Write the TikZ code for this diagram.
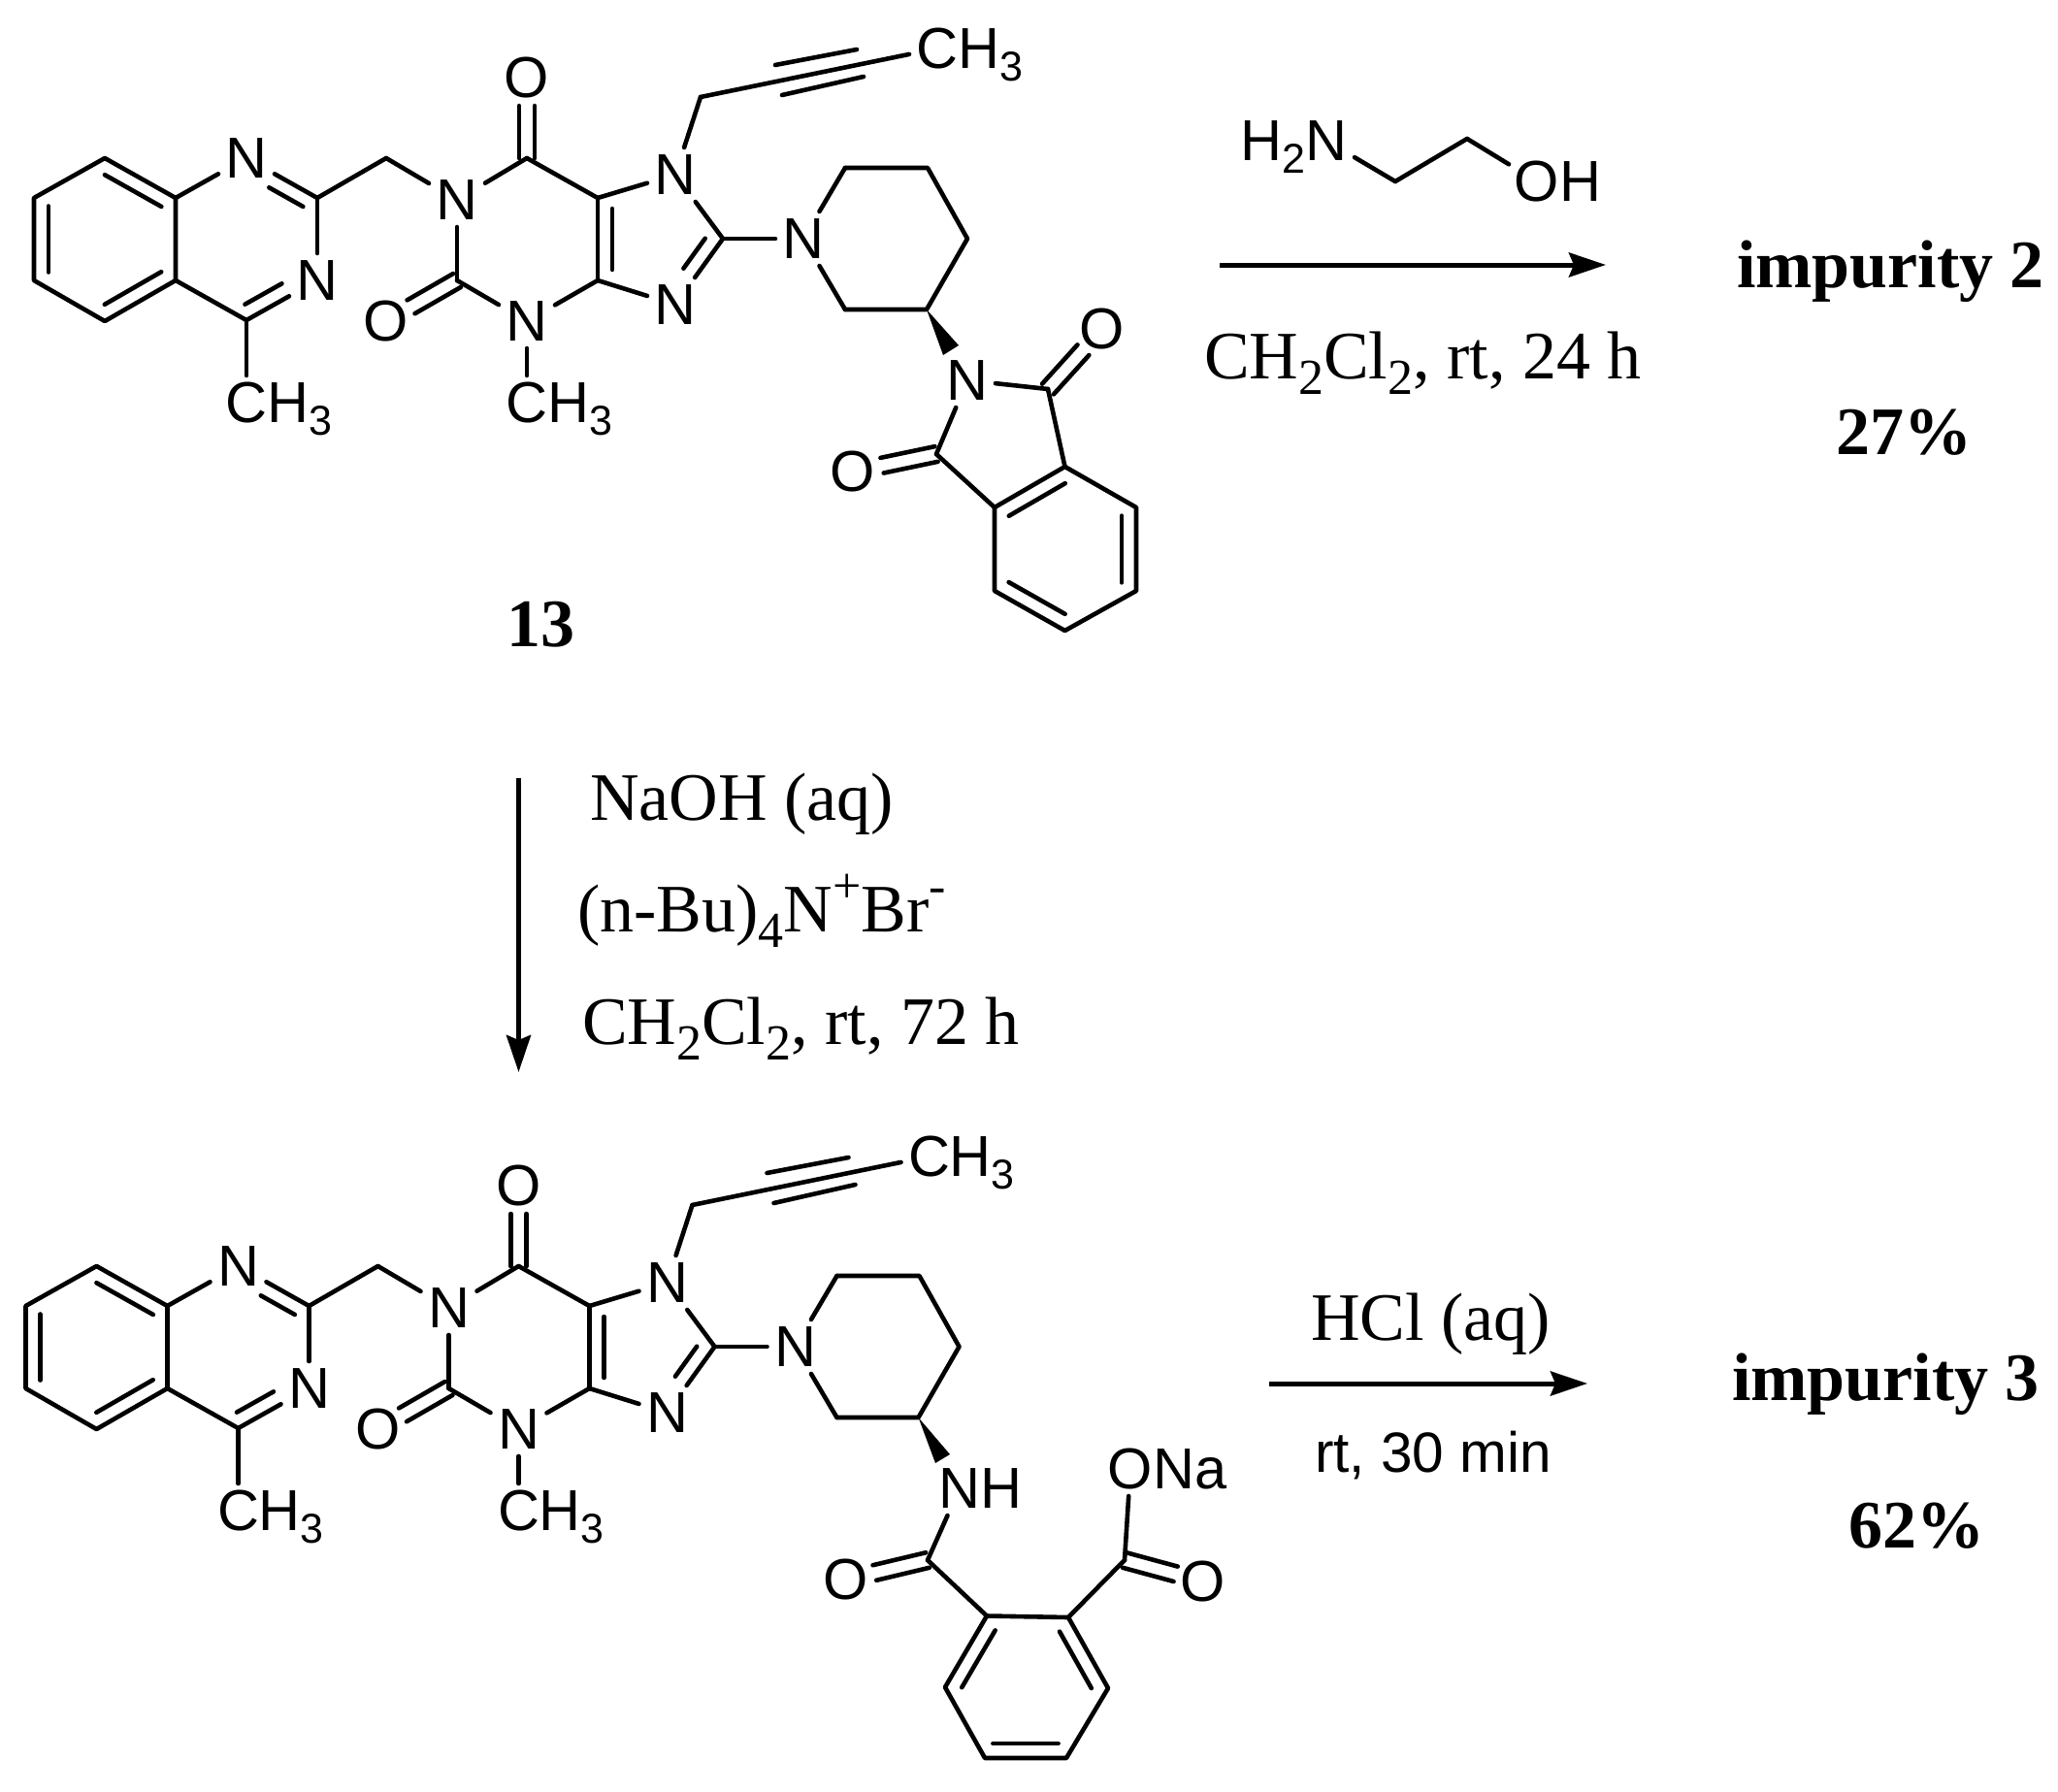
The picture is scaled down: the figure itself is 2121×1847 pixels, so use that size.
\documentclass[tikz,border=0pt]{standalone}
\usepackage{fontspec}
\setmainfont{Liberation Serif}
\newfontfamily\atomfont{Liberation Sans}
\usetikzlibrary{calc,arrows.meta}
\newcommand\asub[1]{\raisebox{-12.5pt}{\fontsize{43}{43}\selectfont #1}}
\newcommand\ssub[1]{\raisebox{-16pt}{\fontsize{52}{52}\selectfont #1}}
\newcommand\ssup[1]{\raisebox{30pt}{\fontsize{52}{52}\selectfont #1}}
\tikzset{
  every node/.style={inner sep=0pt,outer sep=0pt},
  bond/.style={line width=4.6pt,line cap=round,line join=round,black},
  rxn/.style={line width=5pt,black,-{Stealth[length=38pt,width=25pt,inset=5pt]}},
  atom/.style={rectangle,minimum width=58pt,minimum height=56pt,text height=41pt,text depth=0pt,
    font=\atomfont\fontsize{59.5}{62}\selectfont},
  lbl/.style={anchor=base west,font=\fontsize{70}{74}\selectfont},
  blbl/.style={anchor=base west,font=\bfseries\fontsize{70}{74}\selectfont},
  albl/.style={anchor=base west,font=\atomfont\fontsize{58.5}{60}\selectfont}
}
% inner line of a ring double bond (ring walked clockwise on screen)
\newcommand\inb[4]{\draw[bond] ($(#1)!#3!(#2)!-15pt!90:(#2)$) -- ($(#1)!#4!(#2)!-15pt!90:(#2)$);}
% symmetric C=O double bond
\newcommand\dbo[2]{%
  \draw[bond] ($(#1)!0!(#2)!8pt!90:(#2)$) -- ($(#1)!.65!(#2)!8pt!90:(#2)$);
  \draw[bond] ($(#1)!0!(#2)!-8pt!90:(#2)$) -- ($(#1)!.65!(#2)!-8pt!90:(#2)$);}
\newcommand\core{%
  \coordinate (b1) at (108,163); \coordinate (b2) at (181,204); \coordinate (b3) at (181,289);
  \coordinate (b4) at (108,331); \coordinate (b5) at (35,289); \coordinate (b6) at (35,204);
  \node[atom] (n1) at (254,163) {N};
  \coordinate (c2) at (327,204);
  \node[atom] (n3) at (327,289) {N};
  \coordinate (c4) at (254,330);
  \node[atom] (m1) at (254,415) {C\rlap{H\asub{3}}};
  \coordinate (ch2) at (398,163);
  \node[atom] (n1p) at (471,206) {N};
  \coordinate (c6) at (543,163);
  \node[atom] (o6) at (543,80) {O};
  \coordinate (c5) at (616,204);
  \coordinate (c4p) at (616,289);
  \node[atom] (n3p) at (543,331) {N};
  \coordinate (c2p) at (471,289);
  \node[atom] (o2) at (398,331) {O};
  \node[atom] (m2) at (543,415) {C\rlap{H\asub{3}}};
  \node[atom] (n7) at (696,180) {N};
  \coordinate (c8) at (745,246);
  \node[atom] (n9) at (696,314) {N};
  \coordinate (ch2p) at (722,100);
  \node[atom] (m3) at (966,50) {C\rlap{H\asub{3}}};
  \coordinate (tu1) at (799,67); \coordinate (tu2) at (883,51);
  \coordinate (td1) at (806,98); \coordinate (td2) at (890,79);
  \node[atom] (pn) at (828,246) {N};
  \coordinate (p2) at (871,173); \coordinate (p3) at (956,173); \coordinate (p4) at (997,246);
  \coordinate (p5) at (955,319); \coordinate (p6) at (871,319);
  % benzo ring
  \draw[bond] (b1) -- (b2) -- (b3) -- (b4) -- (b5) -- (b6) -- cycle;
  \inb{b1}{b2}{.1}{.9} \inb{b3}{b4}{.1}{.9} \inb{b5}{b6}{.1}{.9}
  % pyrimidine
  \draw[bond] (b2) -- (n1);
  \draw[bond] (n1) -- (c2);
  \draw[bond] (c2) -- (n3);
  \draw[bond] (n3) -- (c4);
  \draw[bond] (c4) -- (b3);
  \inb{n1}{c2}{.42}{.9} \inb{n3}{c4}{.4}{.92}
  \draw[bond] (c4) -- (m1);
  % linker
  \draw[bond] (c2) -- (ch2);
  \draw[bond] (ch2) -- (n1p);
  % xanthine six ring
  \draw[bond] (n1p) -- (c6);
  \draw[bond] (c6) -- (c5);
  \draw[bond] (c5) -- (c4p);
  \draw[bond] (c4p) -- (n3p);
  \draw[bond] (n3p) -- (c2p);
  \draw[bond] (c2p) -- (n1p);
  \dbo{c6}{o6} \dbo{c2p}{o2}
  \draw[bond] (n3p) -- (m2);
  % imidazole
  \draw[bond] (c5) -- (n7);
  \draw[bond] (n7) -- (c8);
  \draw[bond] (c8) -- (n9);
  \draw[bond] (n9) -- (c4p);
  \inb{c4p}{c5}{.13}{.87} \inb{c8}{n9}{.125}{.58}
  % butynyl
  \draw[bond] (n7) -- (ch2p);
  \draw[bond] (ch2p) -- (m3);
  \draw[bond] (tu1) -- (tu2);
  \draw[bond] (td1) -- (td2);
  % piperidine
  \draw[bond] (c8) -- (pn);
  \draw[bond] (pn) -- (p2);
  \draw[bond] (p2) -- (p3) -- (p4) -- (p5) -- (p6);
  \draw[bond] (p6) -- (pn);
}
\begin{document}
\begin{tikzpicture}[x=1pt,y=-1pt]
\useasboundingbox (0,0) rectangle (2121,1847);
\fill[white] (0,0) rectangle (2121,1847);

% ---- compound 13
\begin{scope}[name prefix=t-]
  \core
\end{scope}
\coordinate (w1) at (988,356); \coordinate (w2) at (972,366);
\fill[black] (t-p5) -- (w1) -- (w2) -- cycle;
\node[atom] (pimn) at (997,392) {N};
\coordinate (pc1) at (1080,401); \node[atom] (po1) at (1136,339) {O};
\coordinate (pc2) at (965,468);  \node[atom] (po2) at (879,486) {O};
\coordinate (pb1) at (1097.5,481); \coordinate (pb2) at (1171,523); \coordinate (pb3) at (1171,609);
\coordinate (pb4) at (1097.5,650); \coordinate (pb5) at (1025,609); \coordinate (pb6) at (1025,523);
\draw[bond] (pimn) -- (pc1);
\draw[bond] (pc1) -- (pb1);
\draw[bond] (pb6) -- (pc2);
\draw[bond] (pc2) -- (pimn);
\dbo{pc1}{po1} \dbo{pc2}{po2}
\draw[bond] (pb1) -- (pb2) -- (pb3) -- (pb4) -- (pb5) -- (pb6) -- cycle;
\inb{pb6}{pb1}{.1}{.9} \inb{pb2}{pb3}{.1}{.9} \inb{pb4}{pb5}{.1}{.9}
\node[blbl] (l13) at (522,666.5) {13};

% ---- top reaction
\node[atom] (h2n) at (1367,145) {\llap{H\asub{2}}N};
\coordinate (e1) at (1438,187); \coordinate (e2) at (1512,143);
\node[atom] (oh) at (1584,187) {O\rlap{H}};
\draw[bond] (h2n) -- (e1);
\draw[bond] (e1) -- (e2);
\draw[bond] (e2) -- (oh);
\coordinate (ra1) at (1257,273); \coordinate (ra2) at (1655,273);
\draw[rxn] (ra1) -- (ra2);
\node[lbl] (cond1) at (1241,390) {CH\ssub{2}Cl\ssub{2}, rt, 24 h};
\node[blbl] (imp2) at (1790,296) {impurity 2};
\node[blbl] (y27) at (1892,468) {27\%};

% ---- down reaction
\coordinate (rb1) at (534.5,802); \coordinate (rb2) at (534.5,1105);
\draw[rxn] (rb1) -- (rb2);
\node[lbl] (cond2a) at (608,845) {NaOH (aq)};
\node[lbl] (cond2b) at (595,960) {(n-Bu)\ssub{4}N\ssup{+}Br\ssup{-}};
\node[lbl] (cond2c) at (600,1076) {CH\ssub{2}Cl\ssub{2}, rt, 72 h};

% ---- sodium salt
\begin{scope}[shift={(-8.5,1142)},name prefix=b-]
  \core
\end{scope}
\coordinate (x1) at (979,1499); \coordinate (x2) at (964,1508);
\fill[black] (b-p5) -- (x1) -- (x2) -- cycle;
\node[atom] (nh) at (989,1534) {N\rlap{H}};
\coordinate (k1) at (956,1608); \node[atom] (ko1) at (872,1628) {O};
\coordinate (k2) at (1159,1608); \node[atom] (ko2) at (1240,1630) {O};
\node[atom] (ona) at (1165,1514) {O\rlap{Na}};
\coordinate (a1) at (1017,1665.5); \coordinate (a2) at (1101,1667); \coordinate (a3) at (1142,1740);
\coordinate (a4) at (1099,1812); \coordinate (a5) at (1015,1812); \coordinate (a6) at (974,1739);
\draw[bond] (nh) -- (k1);
\draw[bond] (k1) -- (a1);
\draw[bond] (a2) -- (k2);
\draw[bond] (k2) -- (ona);
\dbo{k1}{ko1} \dbo{k2}{ko2}
\draw[bond] (a1) -- (a2) -- (a3) -- (a4) -- (a5) -- (a6) -- cycle;
\inb{a2}{a3}{.1}{.9} \inb{a4}{a5}{.1}{.9} \inb{a6}{a1}{.1}{.9}

% ---- bottom reaction
\coordinate (rc1) at (1308,1426); \coordinate (rc2) at (1636,1426);
\draw[rxn] (rc1) -- (rc2);
\node[lbl] (cond3) at (1351,1381) {HCl (aq)};
\node[albl] (cond3b) at (1355,1517) {rt, 30 min};
\node[blbl] (imp3) at (1785,1443) {impurity 3};
\node[blbl] (y62) at (1905,1595) {62\%};
\end{tikzpicture}
\end{document}
